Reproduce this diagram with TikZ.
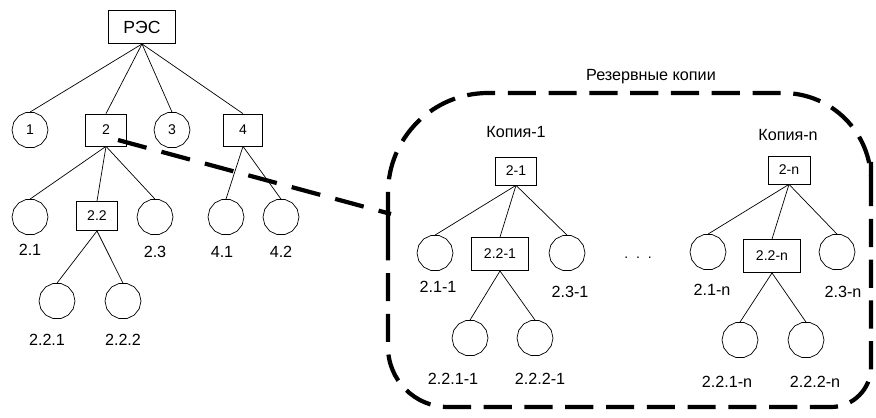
\documentclass[tikz,border=0pt]{standalone}
\usepackage{fontspec}
\setmainfont{Liberation Sans}
\usetikzlibrary{shapes.geometric}
\tikzset{
  unit/.style={draw,line width=0.5pt,minimum width=1.03cm,
    minimum height=0.78cm,inner sep=1pt,font=\fontsize{10}{12}\selectfont},
  leaf/.style={draw,line width=0.5pt,regular polygon,regular polygon sides=14,
    minimum size=0.9cm,inner sep=0pt,font=\fontsize{10}{12}\selectfont},
  tag/.style={font=\fontsize{11.5}{14}\selectfont,inner sep=0pt},
  link/.style={line width=0.5pt},
  backup/.style={line width=3pt,dash pattern=on 20pt off 9pt}
}

\begin{document}
\begin{tikzpicture}[x=0.025cm,y=-0.025cm]
\useasboundingbox (0,0) rectangle (876,417);

% Main tree
\node[unit,minimum width=1.68cm,minimum height=0.83cm,
  font=\fontsize{12.5}{15}\selectfont] (res) at (142,27) {РЭС};
\node[leaf] (n1) at (30,130) {1};
\node[unit,minimum height=0.8cm] (n2) at (106,130) {2};
\node[leaf] (n3) at (172,130) {3};
\node[unit,minimum width=0.98cm,minimum height=0.8cm] (n4) at (243,130) {4};
\foreach \k in {n1,n2,n3,n4}
  \draw[link] (res.south) -- (\k.north);

\node[leaf] (n21) at (30,217) {};
\node[unit,minimum height=0.73cm] (n22) at (97,216) {2.2};
\node[leaf] (n23) at (155,217) {};
\node[leaf] (n41) at (226,217) {};
\node[leaf] (n42) at (281,217) {};
\foreach \k in {n21,n22,n23}
  \draw[link] (n2.south) -- (\k.north);
\foreach \k in {n41,n42}
  \draw[link] (n4.south) -- (\k.north);

\node[leaf] (n221) at (57,301) {};
\node[leaf] (n222) at (123,301) {};
\foreach \k in {n221,n222}
  \draw[link] (n22.south) -- (\k.north);

\node[tag] (t21) at (30,250) {2.1};
\node[tag] (t23) at (155,252) {2.3};
\node[tag] (t41) at (222,252) {4.1};
\node[tag] (t42) at (281,252) {4.2};
\node[tag] (t221) at (47,340) {2.2.1};
\node[tag] (t222) at (123,340) {2.2.2};

% Backup area
\node[tag] (area) at (651,77) {Резервные копии};
\draw[backup]
  (388,280) [rounded corners=2.5cm] |- (640,93)
  [rounded corners=2.2cm] -| (871,250)
  [rounded corners=1cm] |- (640,407)
  [rounded corners=1.5cm] -| cycle;

\coordinate (tap) at (118,140);
\coordinate (dock) at (391,214);
\draw[line width=3pt,dash pattern=on 21pt off 11pt] (tap) -- (dock);

% Copy 1
\node[tag] (k1) at (516,132) {Копия-1};
\node[unit,minimum height=0.7cm] (c1) at (516,171) {2-1};
\node[leaf] (c1a) at (435,253) {};
\node[unit,minimum width=1.43cm,minimum height=0.83cm] (c1b) at (500,254) {2.2-1};
\node[leaf] (c1c) at (567,253) {};
\foreach \k in {c1a,c1b,c1c}
  \draw[link] (c1.south) -- (\k.north);
\node[leaf] (c1ba) at (470,338) {};
\node[leaf] (c1bb) at (535,338) {};
\foreach \k in {c1ba,c1bb}
  \draw[link] (c1b.south) -- (\k.north);
\node[tag] (s1a) at (438,287) {2.1-1};
\node[tag] (s1c) at (570,292) {2.3-1};
\node[tag] (s1ba) at (453,379) {2.2.1-1};
\node[tag] (s1bb) at (540,379) {2.2.2-1};

\node[font=\fontsize{10}{12}\selectfont] (dots) at (638,258) {.\ \ .\ \ .};

% Copy n
\node[tag] (kn) at (788,135) {Копия-n};
\node[unit,minimum width=1.05cm,minimum height=0.7cm] (cn) at (789,170) {2-n};
\node[leaf] (cna) at (708,252) {};
\node[unit,minimum width=1.43cm,minimum height=0.83cm] (cnb) at (772,256) {2.2-n};
\node[leaf] (cnc) at (837,252) {};
\foreach \k in {cna,cnb,cnc}
  \draw[link] (cn.south) -- (\k.north);
\node[leaf] (cnba) at (740,340) {};
\node[leaf] (cnbb) at (806,340) {};
\foreach \k in {cnba,cnbb}
  \draw[link] (cnb.south) -- (\k.north);
\node[tag] (sna) at (712,290) {2.1-n};
\node[tag] (snc) at (843,292) {2.3-n};
\node[tag] (snba) at (727,382) {2.2.1-n};
\node[tag] (snbb) at (815,382) {2.2.2-n};

\end{tikzpicture}
\end{document}
